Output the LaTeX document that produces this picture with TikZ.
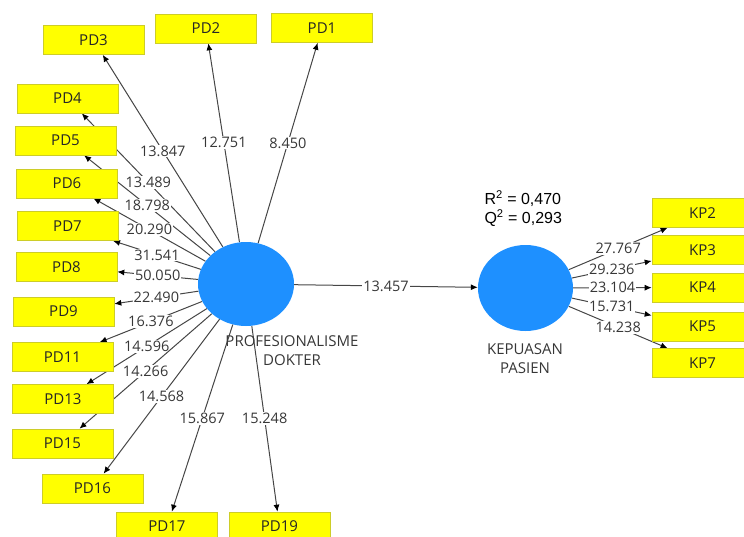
\documentclass[tikz,border=0pt]{standalone}
\usepackage{fontspec}
\setmainfont{Open Sans}
\newfontfamily\arialfont{Liberation Sans}
\usetikzlibrary{shapes.geometric,backgrounds,arrows.meta}

% Colori del modello
\definecolor{bluLV}{RGB}{30,144,255}
\definecolor{gialloMV}{RGB}{255,255,0}
\definecolor{bordoMV}{RGB}{205,205,40}
\definecolor{grigioFreccia}{RGB}{70,70,70}
\definecolor{grigioTesto}{RGB}{55,55,55}

\tikzset{
	indicatore/.style={rectangle, draw=bordoMV, line width=0.6pt, fill=gialloMV,
		minimum width=101pt, minimum height=29pt, inner sep=0pt,
		text=black!85, font=\fontsize{15}{18}\selectfont},
	latente/.style={ellipse, fill=bluLV, draw=none, inner sep=0pt},
	nome/.style={align=center, text=grigioTesto, font=\fontsize{15}{19}\selectfont},
	carico/.style={-{Latex[length=7pt, width=6pt, color=black]}, draw=grigioFreccia, line width=1pt},
	valore/.style={midway, fill=white, inner sep=1pt, text=grigioTesto,
		font=\fontsize{14.5}{17}\selectfont},
}

\begin{document}
\begin{tikzpicture}[>=latex, x=1pt, y=-1pt]
	\useasboundingbox (0,0) rectangle (744,536);
	
	% --- Costrutti latenti ---
	\node[latente, minimum width=96pt, minimum height=84pt] (prof) at (246,284) {};
	\node[latente, minimum width=95pt, minimum height=86pt] (kp) at (525.5,288) {};
	% Nomi dei costrutti
	\node[nome] (profnome) at (292,351) {PROFESIONALISME\\DOKTER};
	\node[nome] (kpnome) at (525,359) {KEPUASAN\\PASIEN};
	% R quadro e Q quadro
	\node[anchor=west, align=left, font=\arialfont\fontsize{16}{19}\selectfont]
		(rquadro) at (481,208.5) {R\textsuperscript{2} = 0,470\\Q\textsuperscript{2} = 0,293};
	
	% --- Indicatori di PROFESIONALISME DOKTER ---
	\node[indicatore] (pd1) at (322,28) {PD1};
	\node[indicatore] (pd2) at (206,28.5) {PD2};
	\node[indicatore] (pd3) at (93.5,40) {PD3};
	\node[indicatore] (pd4) at (67.5,98.5) {PD4};
	\node[indicatore] (pd5) at (65.5,140.5) {PD5};
	\node[indicatore] (pd6) at (67,183.5) {PD6};
	\node[indicatore] (pd7) at (67.5,226) {PD7};
	\node[indicatore] (pd8) at (66.5,267) {PD8};
	\node[indicatore] (pd9) at (63.5,311.5) {PD9};
	\node[indicatore] (pd11) at (62.5,357) {PD11};
	\node[indicatore] (pd13) at (63,399) {PD13};
	\node[indicatore] (pd15) at (62.5,443.5) {PD15};
	\node[indicatore] (pd16) at (92.5,488.5) {PD16};
	\node[indicatore] (pd17) at (167,526.5) {PD17};
	\node[indicatore] (pd19) at (279.5,526.5) {PD19};
	
	% --- Indicatori di KEPUASAN PASIEN ---
	\node[indicatore] (kp2) at (702.5,213) {KP2};
	\node[indicatore] (kp3) at (702.5,250) {KP3};
	\node[indicatore] (kp4) at (702.5,287.5) {KP4};
	\node[indicatore] (kp5) at (702.5,326.5) {KP5};
	\node[indicatore] (kp7) at (702.5,363) {KP7};
	
	% --- Frecce (sotto i rettangoli) ---
	\begin{scope}[on background layer]
		% Outer loadings
		\draw[carico] (prof) -- node[valore] (vpd1) {8.450} (pd1);
		\draw[carico] (prof) -- node[valore] (vpd2) {12.751} (pd2);
		\draw[carico] (prof) -- node[valore] (vpd3) {13.847} (pd3);
		\draw[carico] (prof) -- node[valore] (vpd4) {13.489} (pd4);
		\draw[carico] (prof) -- node[valore] (vpd5) {18.798} (pd5);
		\draw[carico] (prof) -- node[valore] (vpd6) {20.290} (pd6);
		\draw[carico] (prof) -- node[valore] (vpd7) {31.541} (pd7);
		\draw[carico] (prof) -- node[valore] (vpd8) {50.050} (pd8);
		\draw[carico] (prof) -- node[valore] (vpd9) {22.490} (pd9);
		\draw[carico] (prof) -- node[valore] (vpd11) {16.376} (pd11);
		\draw[carico] (prof) -- node[valore] (vpd13) {14.596} (pd13);
		\draw[carico] (prof) -- node[valore] (vpd15) {14.266} (pd15);
		\draw[carico] (prof) -- node[valore] (vpd16) {14.568} (pd16);
		\draw[carico] (prof) -- node[valore] (vpd17) {15.867} (pd17);
		\draw[carico] (prof) -- node[valore] (vpd19) {15.248} (pd19);
		
		\draw[carico] (kp) -- node[valore] (vkp2) {27.767} (kp2);
		\draw[carico] (kp) -- node[valore] (vkp3) {29.236} (kp3);
		\draw[carico] (kp) -- node[valore] (vkp4) {23.104} (kp4);
		\draw[carico] (kp) -- node[valore] (vkp5) {15.731} (kp5);
		\draw[carico] (kp) -- node[valore] (vkp7) {14.238} (kp7);
		
		% Path coefficient
		\draw[carico] (prof) -- node[valore] (vpath) {13.457} (kp);
	\end{scope}
\end{tikzpicture}
\end{document}
